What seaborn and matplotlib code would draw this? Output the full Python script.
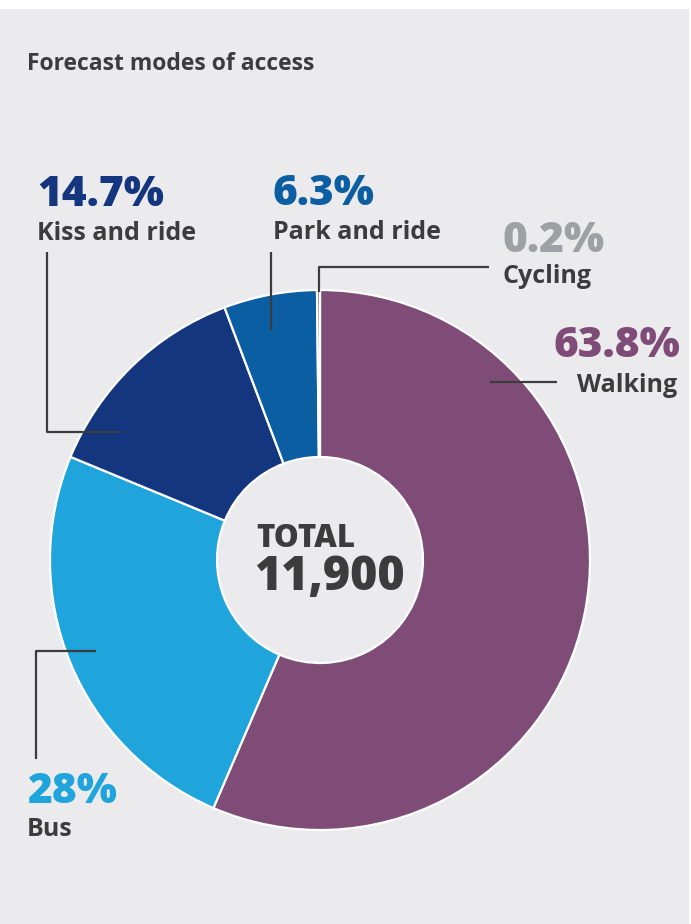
import numpy as np
import matplotlib
matplotlib.use("Agg")
import matplotlib.pyplot as plt
from matplotlib.patches import Rectangle
import seaborn as sns

# Forecast modes of access (share of trips, %)
modes = ["Walking", "Bus", "Kiss and ride", "Park and ride", "Cycling"]
shares = [63.8, 28, 14.7, 6.3, 0.2]
share_labels = ["63.8%", "28%", "14.7%", "6.3%", "0.2%"]
total_caption = "TOTAL"
total_label = "11,900"
title = "Forecast modes of access"

sns.set_theme(style="white")
plt.rcParams["font.family"] = ["Open Sans", "DejaVu Sans"]

wedge_colors = sns.color_palette(["#7f4c78", "#1fa4dc", "#13367f", "#0b5ea2", "#6a6a6c"])
pct_colors = ["#7f4c78", "#1fa4dc", "#13367f", "#0b5ea2", "#9fa0a3"]
ink = "#3c3c3d"
bg = "#ebebed"

W, H = 691, 924
fig = plt.figure(figsize=(W / 100, H / 100), dpi=100, facecolor="white")
ax = fig.add_axes([0, 0, 1, 1])


def Y(y):
    return H - y


cx, cy, R = 320, Y(560), 270
wedges, _ = ax.pie(
    shares, colors=wedge_colors, startangle=90, counterclock=False,
    radius=R, center=(cx, cy),
    wedgeprops=dict(width=167, edgecolor="white", linewidth=1.6),
)
ax.set_xlim(0, W)
ax.set_ylim(0, H)
ax.set_aspect("equal")
ax.axis("off")
ax.add_patch(Rectangle((0, 0), 689, H - 9, facecolor=bg, edgecolor="none", zorder=-5))


def anchor(i, frac, r):
    w = wedges[i]
    a = np.deg2rad(w.theta2 - frac * (w.theta2 - w.theta1))
    return cx + r * np.cos(a), cy + r * np.sin(a)


line_kw = dict(color=ink, lw=1.6, solid_capstyle="butt", zorder=5)

# Walking
ex, ey = anchor(0, 0.215, 246)
ax.plot([557, ex], [ey, ey], **line_kw)
# Bus
ex, ey = anchor(1, 0.5, 242)
ax.plot([36, 36, ex], [Y(759), ey, ey], **line_kw)
# Kiss and ride
ex, ey = anchor(2, 0.22, 237)
ax.plot([47, 47, ex], [Y(252), ey, ey], **line_kw)
# Park and ride
ex, ey = anchor(3, 0.43, 235)
ax.plot([ex, ex], [Y(252), ey], **line_kw)
# Cycling
ex, ey = anchor(4, 0.5, 268)
ax.plot([489, ex, ex], [Y(267), Y(267), ey], **line_kw)

pct_kw = dict(fontsize=30.5, fontweight=800, va="baseline")
lab_kw = dict(fontsize=18, fontweight="bold", color=ink, va="baseline")

ax.text(27, Y(70), title, fontsize=16.5, fontweight="bold", color=ink, va="baseline")

# (x, pct baseline, label baseline, alignment)
spots = [
    (680, 357, 392, "right"),
    (27, 803, 836, "left"),
    (37, 206, 240, "left"),
    (273, 205, 239, "left"),
    (503, 252, 283, "left"),
]
for i, (x, yp, yl, ha) in enumerate(spots):
    ax.text(x, Y(yp), share_labels[i], color=pct_colors[i], ha=ha, **pct_kw)
    ax.text(x - (3 if ha == "right" else 0), Y(yl), modes[i], ha=ha, **lab_kw)

ax.text(256, Y(547), total_caption, fontsize=22.5, fontweight=800, color=ink, va="baseline")
ax.text(254, Y(590), total_label, fontsize=33.5, fontweight=800, color=ink, va="baseline")

fig.savefig("out.png", dpi=100, facecolor="white")
